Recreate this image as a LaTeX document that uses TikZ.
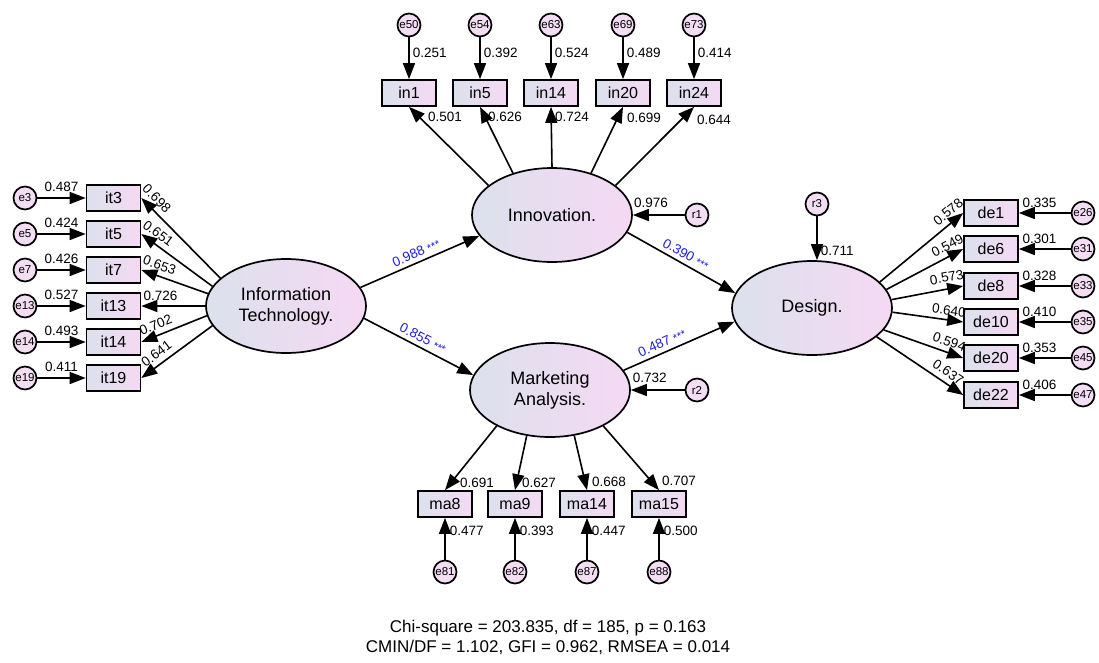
\documentclass[tikz,border=0pt]{standalone}
\usepackage{fontspec}
\setmainfont{Liberation Sans}
\usepackage{xcolor}
\usepackage{tikz}
\usetikzlibrary{arrows.meta}
\usetikzlibrary{shapes.geometric}

\definecolor{shadeL}{RGB}{220,225,236}
\definecolor{shadeR}{RGB}{245,217,244}
\definecolor{errfill}{RGB}{243,221,243}
\definecolor{coefblue}{RGB}{30,30,230}
\newcommand{\starsig}{{\fontsize{11}{11}\selectfont***}}

\begin{document}
\begin{tikzpicture}[x=1pt,y=-1pt]
	\useasboundingbox (0,0) rectangle (1099,662);
	\tikzstyle{latent}=[draw,shape=ellipse,line width=1.7pt,left color=shadeL,right color=shadeR,minimum width=160pt,minimum height=94pt,align=center,font=\fontsize{18}{21}\selectfont]
	\tikzstyle{obs}=[draw,shape=rectangle,line width=1.7pt,left color=shadeL,right color=shadeR,minimum width=54pt,minimum height=26pt,inner sep=0pt,font=\fontsize{16}{16}\selectfont]
	\tikzstyle{err}=[draw,shape=circle,line width=1.7pt,fill=errfill,minimum size=23pt,inner sep=0pt,font=\fontsize{11.5}{11.5}\selectfont]
	\tikzstyle{lbl}=[inner sep=1pt,font=\fontsize{13.5}{13.5}\selectfont]
	\tikzstyle{coef}=[inner sep=1pt,text=coefblue,font=\fontsize{13.5}{13.5}\selectfont]
	\tikzstyle{arr}=[line width=1.6pt,>={Triangle[length=16pt,width=12pt]}]
	% latent variables
	\node[latent] (it) at (286,306) {Information\\Technology.};
	\node[latent] (inn) at (552,215) {Innovation.};
	\node[latent] (mkt) at (550,390) {Marketing\\Analysis.};
	\node[latent] (des) at (812,308) {Design.};
	% observed variables
	\node[obs] (it3) at (113.5,198) {it3};
	\node[obs] (it5) at (113.5,234) {it5};
	\node[obs] (it7) at (113.5,270) {it7};
	\node[obs] (it13) at (113.5,306) {it13};
	\node[obs] (it14) at (113.5,342) {it14};
	\node[obs] (it19) at (113.5,378) {it19};
	\node[obs] (in1) at (409,93) {in1};
	\node[obs] (in5) at (480,93) {in5};
	\node[obs] (in14) at (551,93) {in14};
	\node[obs] (in20) at (623,93) {in20};
	\node[obs] (in24) at (694,93) {in24};
	\node[obs] (ma8) at (445,504) {ma8};
	\node[obs] (ma9) at (515,504) {ma9};
	\node[obs] (ma14) at (587,504) {ma14};
	\node[obs] (ma15) at (659,504) {ma15};
	\node[obs] (de1) at (991,213) {de1};
	\node[obs] (de6) at (991,249) {de6};
	\node[obs] (de8) at (991,286) {de8};
	\node[obs] (de10) at (991,322) {de10};
	\node[obs] (de20) at (991,358) {de20};
	\node[obs] (de22) at (991,395) {de22};
	% error terms
	\node[err] (e3) at (25,198) {e3};
	\node[err] (e5) at (25,234) {e5};
	\node[err] (e7) at (25,270) {e7};
	\node[err] (e13) at (25,306) {e13};
	\node[err] (e14) at (25,342) {e14};
	\node[err] (e19) at (25,378) {e19};
	\node[err] (e50) at (409,25) {e50};
	\node[err] (e54) at (480,25) {e54};
	\node[err] (e63) at (551,25) {e63};
	\node[err] (e69) at (623,25) {e69};
	\node[err] (e73) at (694,25) {e73};
	\node[err] (e81) at (445,572) {e81};
	\node[err] (e82) at (515,572) {e82};
	\node[err] (e87) at (587,572) {e87};
	\node[err] (e88) at (659,572) {e88};
	\node[err] (e26) at (1083,213) {e26};
	\node[err] (e31) at (1083,249) {e31};
	\node[err] (e33) at (1083,286) {e33};
	\node[err] (e35) at (1083,322) {e35};
	\node[err] (e45) at (1083,358) {e45};
	\node[err] (e47) at (1083,395) {e47};
	\node[err] (r1) at (697,215) {r1};
	\node[err] (r2) at (697,390) {r2};
	\node[err] (r3) at (817,204) {r3};
	% Information Technology
	\draw[arr,->] (e3)--node[lbl,above=5pt]{0.487}(it3);
	\draw[arr,->] (e5)--node[lbl,above=5pt]{0.424}(it5);
	\draw[arr,->] (e7)--node[lbl,above=5pt]{0.426}(it7);
	\draw[arr,->] (e13)--node[lbl,above=5pt]{0.527}(it13);
	\draw[arr,->] (e14)--node[lbl,above=5pt]{0.493}(it14);
	\draw[arr,->] (e19)--node[lbl,above=5pt]{0.411}(it19);
	\draw[arr,<-] (it3.east)--node[lbl,sloped,above=4pt,pos=.1]{0.698}(it.157);
	\draw[arr,<-] (it5.east)--node[lbl,sloped,above=4pt,pos=.15]{0.651}(it.165);
	\draw[arr,<-] (it7.east)--node[lbl,sloped,above=4pt,pos=.22]{0.653}(it.171);
	\draw[arr,<-] (it13.east)--node[lbl,sloped,above=4pt,pos=.3]{0.726}(it.180);
	\draw[arr,<-] (it14.east)--node[lbl,sloped,above=4pt,pos=.28]{0.702}(it.187);
	\draw[arr,<-] (it19.east)--node[lbl,sloped,above=4pt,pos=.3]{0.641}(it.195);
	% Innovation
	\draw[arr,->] (e50)--node[lbl,right=2pt,pos=.36]{0.251}(in1);
	\draw[arr,->] (e54)--node[lbl,right=2pt,pos=.36]{0.392}(in5);
	\draw[arr,->] (e63)--node[lbl,right=2pt,pos=.36]{0.524}(in14);
	\draw[arr,->] (e69)--node[lbl,right=2pt,pos=.36]{0.489}(in20);
	\draw[arr,->] (e73)--node[lbl,right=2pt,pos=.36]{0.414}(in24);
	\draw[arr,->] (inn.155)--(in1.south);
	\draw[arr,->] (inn.133)--(in5.south);
	\draw[arr,->] (inn.90)--(in14.south);
	\draw[arr,->] (inn.47)--(in20.south);
	\draw[arr,->] (inn.25)--(in24.south);
	\node[lbl,anchor=west] (lin1) at (427,117) {0.501};
	\node[lbl,anchor=west] (lin5) at (487,117) {0.626};
	\node[lbl,anchor=west] (lin14) at (554,117) {0.724};
	\node[lbl,anchor=west] (lin20) at (626,118) {0.699};
	\node[lbl,anchor=west] (lin24) at (696,120) {0.644};
	% Marketing Analysis
	\draw[arr,->] (mkt.214)--(ma8.north);
	\draw[arr,->] (mkt.243)--(ma9.north);
	\draw[arr,->] (mkt.298)--(ma14.north);
	\draw[arr,->] (mkt.326)--(ma15.north);
	\node[lbl,anchor=west] (lma8) at (459,483) {0.691};
	\node[lbl,anchor=west] (lma9) at (521,483) {0.627};
	\node[lbl,anchor=west] (lma14) at (591,482) {0.668};
	\node[lbl,anchor=west] (lma15) at (661,481) {0.707};
	\draw[arr,->] (e81)--node[lbl,right=3pt,pos=.7]{0.477}(ma8);
	\draw[arr,->] (e82)--node[lbl,right=3pt,pos=.7]{0.393}(ma9);
	\draw[arr,->] (e87)--node[lbl,right=3pt,pos=.7]{0.447}(ma14);
	\draw[arr,->] (e88)--node[lbl,right=3pt,pos=.7]{0.500}(ma15);
	% Design
	\draw[arr,->] (des.21)--node[lbl,sloped,above=4pt,pos=.9]{0.578}(de1.west);
	\draw[arr,->] (des.14)--node[lbl,sloped,above=4pt,pos=.86]{0.549}(de6.west);
	\draw[arr,->] (des.6)--node[lbl,sloped,above=5pt,pos=.8]{0.573}(de8.west);
	\draw[arr,->] (des.-3)--node[lbl,sloped,above=3pt,pos=.78]{0.640}(de10.west);
	\draw[arr,->] (des.-17)--node[lbl,sloped,above=4pt,pos=.78]{0.594}(de20.west);
	\draw[arr,->] (des.-24)--node[lbl,sloped,above=4pt,pos=.76]{0.637}(de22.west);
	\draw[arr,->] (e26)--node[lbl,above=4pt,pos=.6]{0.335}(de1);
	\draw[arr,->] (e31)--node[lbl,above=4pt,pos=.6]{0.301}(de6);
	\draw[arr,->] (e33)--node[lbl,above=4pt,pos=.6]{0.328}(de8);
	\draw[arr,->] (e35)--node[lbl,above=4pt,pos=.6]{0.410}(de10);
	\draw[arr,->] (e45)--node[lbl,above=4pt,pos=.6]{0.353}(de20);
	\draw[arr,->] (e47)--node[lbl,above=4pt,pos=.6]{0.406}(de22);
	% structural paths and residuals
	\draw[arr,->] (it.14)--node[coef,sloped,above=3pt]{0.988 \starsig}(inn.196);
	\draw[arr,->] (it.-9)--node[coef,sloped,above=3pt]{0.855 \starsig}(mkt.169);
	\draw[arr,->] (inn.-13)--node[coef,sloped,above=3pt]{0.390 \starsig}(des.169);
	\draw[arr,->] (mkt.15)--node[coef,sloped,above=3pt,pos=.38]{0.487 \starsig}(des.190);
	\draw[arr,->] (r1)--node[lbl,above=6pt,pos=.65]{0.976}(inn);
	\draw[arr,->] (r2)--node[lbl,above=6pt,pos=.65]{0.732}(mkt);
	\draw[arr,->] (r3)--node[lbl,right=2pt,pos=.78]{0.711}(des.north -| r3);
	% fit indices
	\node[align=center,font=\fontsize{17}{20}\selectfont] (fitinfo) at (548,637) {Chi-square = 203.835, df = 185, p = 0.163\\CMIN/DF = 1.102, GFI = 0.962, RMSEA = 0.014};
\end{tikzpicture}
\end{document}
